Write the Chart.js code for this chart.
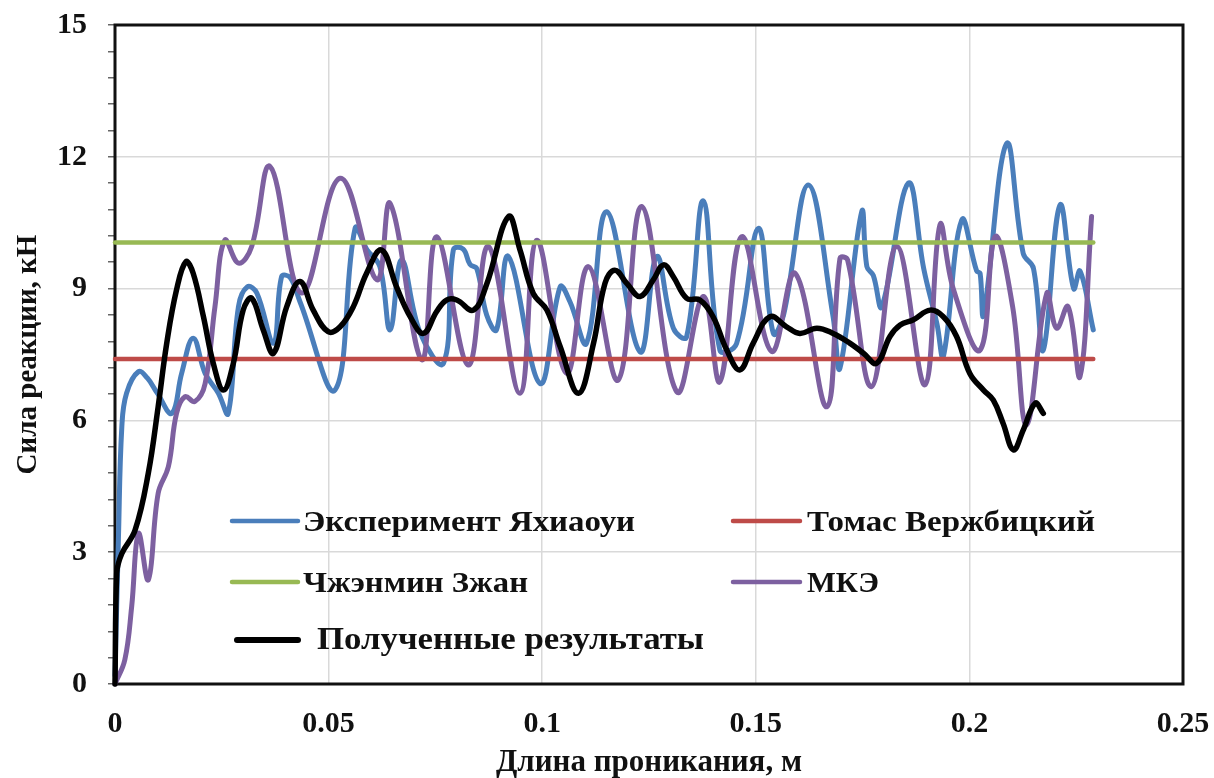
<!DOCTYPE html>
<html><head><meta charset="utf-8">
<script src="https://cdn.jsdelivr.net/npm/chart.js@4.4.1/dist/chart.umd.min.js"></script>
<style>html,body{margin:0;padding:0;background:#fff;}#wrap{width:1214px;height:778px;}</style>
</head><body><div id="wrap"><canvas id="c" width="1214" height="778"></canvas></div>
<script>
// ---- tick labels ----
const xTickLabels = ['0', '0.05', '0.1', '0.15', '0.2', '0.25'];
const yTickLabels = ['0', '3', '6', '9', '12', '15'];
const xTitle = 'Длина проникания, м';
const yTitle = 'Сила реакции, кН';

// ---- series names ----
const seriesNames = ['Эксперимент Яхиаоуи', 'Томас Вержбицкий', 'Чжэнмин Зжан', 'МКЭ', 'Полученные результаты'];

// ---- Эксперимент Яхиаоуи ----
const expX = [0, 0.0008, 0.0016, 0.0027, 0.0055, 0.0076, 0.0099, 0.0133, 0.0156, 0.0183, 0.0211, 0.0242, 0.0265, 0.0289, 0.0310, 0.0332, 0.0371, 0.0390, 0.0410, 0.0433, 0.0515, 0.0562, 0.0590, 0.0620, 0.0644, 0.0671, 0.0714, 0.0769, 0.0792, 0.0815, 0.0831, 0.0847, 0.0870, 0.0893, 0.0921, 0.0995, 0.1042, 0.1065, 0.1104, 0.1151, 0.1229, 0.1268, 0.1307, 0.1338, 0.1377, 0.1416, 0.1455, 0.1506, 0.1541, 0.1565, 0.1623, 0.1681, 0.1697, 0.1748, 0.1760, 0.1775, 0.1795, 0.1857, 0.1893, 0.1924, 0.1939, 0.1982, 0.2017, 0.2025, 0.2033, 0.2087, 0.2126, 0.2150, 0.2173, 0.2212, 0.2244, 0.2259, 0.2290];
const expY = [0.2, 3.3, 5.86, 6.62, 7.11, 6.96, 6.62, 6.16, 7.07, 7.87, 7.07, 6.62, 6.16, 8.59, 9.04, 8.9, 7.76, 9.27, 9.25, 8.7, 6.69, 10.37, 9.88, 9.5, 8.06, 9.65, 8.0, 7.3, 9.88, 9.9, 9.55, 9.45, 8.4, 8.06, 9.73, 6.84, 9.04, 8.7, 7.76, 10.75, 7.56, 9.73, 8.1, 7.9, 11.0, 7.6, 7.75, 10.37, 7.98, 8.4, 11.36, 8.36, 7.19, 10.75, 9.5, 9.3, 8.59, 11.4, 9.46, 8.2, 7.45, 10.56, 9.4, 9.35, 8.4, 12.3, 9.8, 9.46, 7.6, 10.9, 9.0, 9.4, 8.06];

// ---- Томас Вержбицкий ----
const wierzX = [0, 0.229];
const wierzY = [7.4, 7.4];

// ---- Чжэнмин Зжан ----
const zhangX = [0, 0.229];
const zhangY = [10.05, 10.05];

// ---- МКЭ ----
const femX = [0, 0.0023, 0.0039, 0.0055, 0.0078, 0.0101, 0.0125, 0.0144, 0.0164, 0.0187, 0.0211, 0.0234, 0.0257, 0.0289, 0.0320, 0.0363, 0.0437, 0.0527, 0.0613, 0.0644, 0.0718, 0.0753, 0.0827, 0.0874, 0.0948, 0.0987, 0.1057, 0.1108, 0.1178, 0.1233, 0.1315, 0.1377, 0.1416, 0.1467, 0.1537, 0.1592, 0.1666, 0.1697, 0.1715, 0.1771, 0.1830, 0.1896, 0.1931, 0.1962, 0.2025, 0.2060, 0.2101, 0.2134, 0.2181, 0.2204, 0.2231, 0.2259, 0.2286];
const femY = [0, 0.55, 1.76, 3.43, 2.37, 4.34, 4.95, 6.16, 6.54, 6.43, 6.84, 8.59, 10.1, 9.58, 9.96, 11.78, 8.9, 11.51, 9.2, 10.94, 7.38, 10.18, 7.26, 9.96, 6.62, 10.1, 7.07, 9.5, 6.92, 10.87, 6.65, 8.82, 6.88, 10.18, 7.57, 9.35, 6.31, 9.69, 9.65, 6.77, 9.96, 6.81, 10.45, 9.0, 7.6, 10.18, 8.6, 5.9, 8.89, 8.1, 8.59, 7.0, 10.64];

// ---- Полученные результаты ----
const ownX = [0, 0.0004, 0.0016, 0.0047, 0.0078, 0.0101, 0.0121, 0.0144, 0.0166, 0.0183, 0.0207, 0.0230, 0.0254, 0.0277, 0.0300, 0.0320, 0.0347, 0.0371, 0.0402, 0.0433, 0.0464, 0.0499, 0.0527, 0.0558, 0.0589, 0.0624, 0.0659, 0.0691, 0.0722, 0.0753, 0.0776, 0.0800, 0.0839, 0.0870, 0.0921, 0.0948, 0.0979, 0.1011, 0.1042, 0.1085, 0.1120, 0.1147, 0.1170, 0.1198, 0.1229, 0.1260, 0.1284, 0.1307, 0.1338, 0.1369, 0.1400, 0.1432, 0.1463, 0.1494, 0.1533, 0.1572, 0.1603, 0.1643, 0.1681, 0.1720, 0.1752, 0.1783, 0.1814, 0.1838, 0.1869, 0.1908, 0.1939, 0.1970, 0.2001, 0.2033, 0.2056, 0.2079, 0.2103, 0.2126, 0.2154, 0.2173];
const ownY = [0, 2.52, 2.97, 3.5, 4.8, 6.31, 7.75, 8.97, 9.61, 9.35, 8.36, 7.3, 6.69, 7.3, 8.51, 8.78, 8.06, 7.53, 8.59, 9.16, 8.51, 8.02, 8.13, 8.59, 9.35, 9.88, 9.04, 8.36, 7.98, 8.48, 8.74, 8.74, 8.51, 9.1, 10.64, 9.88, 8.89, 8.51, 7.68, 6.62, 7.75, 9.12, 9.42, 9.12, 8.82, 9.2, 9.54, 9.27, 8.78, 8.74, 8.36, 7.6, 7.15, 7.76, 8.36, 8.13, 7.98, 8.10, 7.98, 7.76, 7.53, 7.3, 7.91, 8.17, 8.29, 8.51, 8.36, 7.91, 7.07, 6.69, 6.46, 5.93, 5.33, 5.78, 6.39, 6.16];

// ---- styles ----
const colors = ['#4A7EBB', '#BE4B48', '#98B954', '#7D60A0', '#000000'];
const widths = [5, 4.5, 4.5, 5, 5.5];
const orders = [4, 1, 2, 3, 0];
const serif = '"Liberation Serif", "Times New Roman", serif';

function pts(xs, ys) { return xs.map((x, i) => ({ x: x, y: ys[i] })); }
const allX = [expX, wierzX, zhangX, femX, ownX];
const allY = [expY, wierzY, zhangY, femY, ownY];

const datasets = seriesNames.map((name, i) => ({
  label: name,
  data: pts(allX[i], allY[i]),
  borderColor: colors[i],
  backgroundColor: colors[i],
  borderWidth: widths[i],
  pointRadius: 0,
  tension: 0.4,
  fill: false,
  clip: false,
  order: orders[i],
  borderCapStyle: 'round',
  borderJoinStyle: 'round'
}));

// legend layout (pixel placement of the in-plot legend)
const legendLayout = [
  { lx0: 232, lx1: 298, ly: 521, tx: 303, base: 531, w: 332, size: 30 },
  { lx0: 733, lx1: 800, ly: 521, tx: 807, base: 531, w: 288, size: 30 },
  { lx0: 232, lx1: 298, ly: 582, tx: 303, base: 592, w: 225, size: 30 },
  { lx0: 733, lx1: 800, ly: 582, tx: 807, base: 592, w: 72, size: 30 },
  { lx0: 237, lx1: 298, ly: 640, tx: 317, base: 649, w: 387, size: 31 }
];

const framePlugin = {
  id: 'frame',
  beforeDatasetsDraw(chart) {
    const a = chart.chartArea, ctx = chart.ctx;
    ctx.save();
    ctx.strokeStyle = '#111';
    ctx.lineWidth = 3;
    ctx.strokeRect(a.left, a.top, a.right - a.left, a.bottom - a.top);
    ctx.restore();
  }
};

const legendPlugin = {
  id: 'inLegend',
  afterDatasetsDraw(chart) {
    const ctx = chart.ctx;
    ctx.save();
    chart.data.datasets.forEach((ds, i) => {
      const L = legendLayout[i];
      ctx.strokeStyle = ds.borderColor;
      ctx.lineWidth = i === 4 ? 6 : 4.5;
      ctx.lineCap = 'round';
      ctx.beginPath();
      ctx.moveTo(L.lx0, L.ly);
      ctx.lineTo(L.lx1, L.ly);
      ctx.stroke();
      ctx.font = 'bold ' + L.size + 'px ' + serif;
      ctx.fillStyle = '#111';
      ctx.textBaseline = 'alphabetic';
      ctx.textAlign = 'left';
      const m = ctx.measureText(ds.label).width;
      const sx = L.w / m;
      ctx.save();
      ctx.translate(L.tx, L.base);
      ctx.scale(sx, 1);
      ctx.fillText(ds.label, 0, 0);
      ctx.restore();
    });
    ctx.restore();
  }
};

function isMajor(v) { return Math.abs(v / 3 - Math.round(v / 3)) < 1e-6; }

new Chart(document.getElementById('c'), {
  type: 'line',
  data: { datasets: datasets },
  plugins: [framePlugin, legendPlugin],
  options: {
    responsive: false,
    animation: false,
    devicePixelRatio: 1,
    layout: { padding: { top: 25, right: 31, left: 0, bottom: 0 } },
    plugins: { legend: { display: false }, tooltip: { enabled: false } },
    scales: {
      x: {
        type: 'linear', min: 0, max: 0.25,
        afterFit(s) { s.height = 94; s.paddingLeft = 0; s.paddingRight = 0; },
        ticks: {
          stepSize: 0.05,
          padding: 22,
          color: '#111',
          font: { family: serif, size: 30, weight: 'bold' },
          maxRotation: 0,
          autoSkip: false,
          callback: (v) => xTickLabels[Math.round(v / 0.05)]
        },
        grid: { color: '#d9d9d9', lineWidth: 1.5, drawTicks: false },
        border: { display: false },
        title: {
          display: true, text: xTitle, color: '#111',
          font: { family: serif, size: 31, weight: 'bold', lineHeight: 1 },
          padding: { top: 0, bottom: 0 }
        }
      },
      y: {
        type: 'linear', min: 0, max: 15,
        afterFit(s) { s.width = 115; s.paddingTop = 0; s.paddingBottom = 0; },
        ticks: {
          stepSize: 0.6,
          padding: 21,
          color: '#111',
          autoSkip: false,
          font: { family: serif, size: 30, weight: 'bold' },
          callback: (v) => isMajor(v) ? yTickLabels[Math.round(v / 3)] : ''
        },
        grid: {
          color: (c) => (c.tick && isMajor(c.tick.value)) ? '#d9d9d9' : 'rgba(0,0,0,0)',
          lineWidth: 1.5,
          drawTicks: true,
          tickLength: 7,
          tickColor: '#666',
          tickWidth: 1.5
        },
        border: { display: false },
        title: {
          display: true, text: yTitle, color: '#111',
          font: { family: serif, size: 29, weight: 'bold', lineHeight: 1 },
          padding: { top: 14, bottom: 0 }
        }
      }
    }
  }
});
</script></body></html>
